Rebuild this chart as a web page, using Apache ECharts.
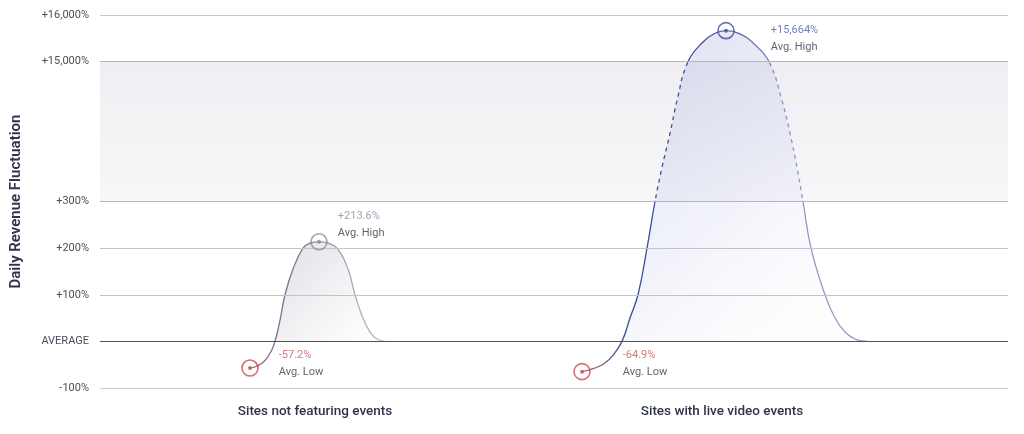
<!DOCTYPE html>
<html>
<head>
<meta charset="utf-8">
<script src="https://cdn.jsdelivr.net/npm/echarts@6/dist/echarts.min.js"></script>
<style>
html,body{margin:0;padding:0;background:#fff;}
#chart{width:1024px;height:434px;}
</style>
</head>
<body>
<div id="chart"></div>
<script>
// ---- data ----
const categories = ['Sites not featuring events', 'Sites with live video events'];
const categoryPos = [215, 622];
const yTicks = [-100, 0, 100, 200, 300, 15000, 16000];
const yTickLabels = ['-100%', 'AVERAGE', '+100%', '+200%', '+300%', '+15,000%', '+16,000%'];
const breakLow = 300;
const breakHigh = 15000;

// curve 1: sites not featuring events (position, % fluctuation)
const noEventsX = [150, 158, 165, 171, 175, 180, 185, 193, 203, 210, 219, 228, 237, 248, 255, 262, 270, 277, 285];
const noEventsY = [-57.2, -52, -41, -22, 0, 45, 100, 155, 200, 210.5, 213.6, 210.5, 200, 155, 100, 55, 20, 5, 0];

// curve 2: sites with live video events
const liveX = [482, 494, 504, 513, 522, 530, 538, 547, 555, 562, 570, 577, 588, 603, 615, 626, 640, 655, 669, 682, 690, 697, 703, 711, 725, 735, 745, 755, 767];
const liveY = [-64.9, -58, -48, -30, 0, 50, 100, 200, 300, 3880, 7450, 10900, 15000, 15420, 15608, 15664, 15594, 15360, 15000, 10900, 7450, 3880, 300, 200, 100, 50, 20, 5, 0];

// ---- helpers ----
function toUnit(v) {
  if (v <= breakLow) return v / 100;
  if (v <= breakHigh) return breakLow / 100 + (v - breakLow) / (breakHigh - breakLow) * 3;
  return breakLow / 100 + 3 + (v - breakHigh) / 1000;
}
function pts(xs, ys) { return xs.map((x, i) => [x, toUnit(ys[i])]); }
function fmt(v) {
  return (v > 0 ? '+' : '') + v.toLocaleString('en-US', {maximumFractionDigits: 1}) + '%';
}
const G = (x1, y1, x2, y2, stops) => new echarts.graphic.LinearGradient(x1, y1, x2, y2, stops.map(c => ({offset: c[0], color: c[1]})));

const FONT = 'Roboto, Inter, sans-serif';
const RED = '#c8474f';

const chart = echarts.init(document.getElementById('chart'));

// layout: plot spans y 15..388 for units -1..7
const TOP = 15, BOTTOM = 388, H = 434;
const uMin = toUnit(-100), uMax = toUnit(16000);
const px = u => BOTTOM - (u - uMin) / (uMax - uMin) * (BOTTOM - TOP);
function band(lo, hi) {
  return {left: 100, right: 16, top: px(hi), bottom: H - px(lo), containLabel: false, outerBoundsMode: 'none'};
}
const uLow = toUnit(breakLow), uHigh = toUnit(breakHigh), uZero = toUnit(0);
const grids = [
  band(uMin, uMax),   // 0 main
  band(uMin, uLow),   // 1 solid lower
  band(uLow, uHigh),  // 2 dashed break
  band(uHigh, uMax),  // 3 solid upper
  band(uZero, uMax)   // 4 fill above average
];
const ranges = [[uMin, uMax], [uMin, uLow], [uLow, uHigh], [uHigh, uMax], [uZero, uMax]];

const xAxes = grids.map((g, i) => ({
  gridIndex: i, type: 'value', min: 0, max: 908,
  axisLine: {show: false}, axisTick: {show: false}, splitLine: {show: false},
  axisLabel: i === 0 ? {
    customValues: categoryPos,
    formatter: v => categories[categoryPos.indexOf(v)] || '',
    margin: 17, fontSize: 13.5, fontWeight: 500, color: '#30344a', fontFamily: FONT
  } : {show: false}
}));
const yAxes = grids.map((g, i) => i === 0 ? {
  gridIndex: 0, type: 'value', min: uMin, max: uMax, interval: 1,
  name: 'Daily Revenue Fluctuation', nameLocation: 'middle', nameGap: 76,
  nameTextStyle: {fontSize: 15, fontWeight: 600, color: '#30344a', fontFamily: FONT},
  axisLine: {show: false}, axisTick: {show: false}, splitLine: {show: false},
  axisLabel: {
    margin: 11, fontSize: 11, color: '#4d4d5c', fontFamily: FONT,
    formatter: v => {
      const k = yTicks.findIndex(t => Math.abs(toUnit(t) - v) < 1e-6);
      return k >= 0 ? yTickLabels[k] : '';
    }
  }
} : {
  gridIndex: i, type: 'value', min: ranges[i][0], max: ranges[i][1],
  axisLine: {show: false}, axisTick: {show: false}, splitLine: {show: false}, axisLabel: {show: false}
});

const tickColors = ['#c9c9d2', '#4d5163', '#c2c2cc', '#c2c2cc', '#b4b4c2', '#b4b4c2', '#c6c6d0'];

const series = [];
// background band + gridlines
series.push({
  type: 'line', data: [], z: 1, silent: true, xAxisIndex: 0, yAxisIndex: 0,
  markArea: {
    silent: true,
    itemStyle: {color: G(0, 0, 0, 1, [[0, '#efeff3'], [1, '#f7f7f9']]), opacity: 1},
    data: [[{yAxis: uLow}, {yAxis: uHigh}]]
  },
  markLine: {
    silent: true, symbol: 'none', label: {show: false},
    data: yTicks.map((v, i) => ({yAxis: toUnit(v), lineStyle: {color: tickColors[i], width: i === 1 ? 1.2 : 1, type: 'solid'}}))
  }
});

const smooth = 0.45;
const curves = [
  {
    data: pts(noEventsX, noEventsY),
    fill: G(0, 0, 1, 1, [[0, 'rgba(150,150,168,0.55)'], [0.6, 'rgba(200,200,212,0.25)'], [1, 'rgba(255,255,255,0)']]),
    stroke: G(0, 0, 1, 0, [[0, RED], [0.1, '#a07080'], [0.2, '#74748a'], [0.5, '#85859a'], [0.7, '#a8a8b8'], [1, '#b8b8c7']])
  },
  {
    data: pts(liveX, liveY),
    fill: G(0, 0, 1, 1, [[0, 'rgba(165,172,218,0.6)'], [0.5, 'rgba(205,209,237,0.4)'], [1, 'rgba(255,255,255,0)']]),
    stroke: G(0, 0, 1, 0, [[0, RED], [0.07, '#8a5a80'], [0.15, '#3b4d97'], [0.45, '#3f5099'], [0.7, '#8a92c4'], [1, '#9ca3cd']])
  }
];
curves.forEach(c => {
  // fill above average only
  series.push({type: 'line', xAxisIndex: 4, yAxisIndex: 4, data: c.data, smooth, showSymbol: false, silent: true, z: 2, clip: true,
    lineStyle: {width: 0}, areaStyle: {origin: 0, color: c.fill}});
  // line: solid in normal ranges, dashed across axis break
  [1, 2, 3].forEach(gi => {
    series.push({type: 'line', xAxisIndex: gi, yAxisIndex: gi, data: c.data, smooth, showSymbol: false, silent: true, z: 4, clip: true,
      lineStyle: {color: c.stroke, width: 1.3, type: gi === 2 ? [4, 4] : 'solid'}});
  });
});

// ---- extreme markers ----
function argmax(a) { return a.indexOf(Math.max(...a)); }
function argmin(a) { return a.indexOf(Math.min(...a)); }
const markers = [
  {xs: noEventsX, ys: noEventsY, i: argmax(noEventsY), text: 'Avg. High', ring: '#8a8a9c', vc: '#8b8ba0', off: [10, -17]},
  {xs: liveX, ys: liveY, i: argmax(liveY), text: 'Avg. High', ring: '#3f4f97', vc: '#4d5fa6', off: [36, 8]},
  {xs: noEventsX, ys: noEventsY, i: argmin(noEventsY), text: 'Avg. Low', ring: RED, vc: '#c8545c', off: [20, -4]},
  {xs: liveX, ys: liveY, i: argmin(liveY), text: 'Avg. Low', ring: RED, vc: '#c8545c', off: [32, -8]}
];
series.push({
  type: 'scatter', z: 6, silent: true, symbolSize: 16, xAxisIndex: 0, yAxisIndex: 0,
  data: markers.map(m => ({
    value: [m.xs[m.i], toUnit(m.ys[m.i])],
    itemStyle: {color: 'rgba(255,255,255,0.15)', borderColor: m.ring, borderWidth: 1.6},
    label: {
      show: true, position: 'right', distance: 0, offset: m.off,
      formatter: '{v|' + fmt(m.ys[m.i]) + '}\n{t|' + m.text + '}',
      rich: {
        v: {color: m.vc, fontSize: 11, fontFamily: FONT, lineHeight: 17},
        t: {color: '#363947', fontSize: 11, fontFamily: FONT, lineHeight: 17}
      }
    }
  }))
});
series.push({
  type: 'scatter', z: 7, silent: true, symbolSize: 4, xAxisIndex: 0, yAxisIndex: 0,
  data: markers.map(m => ({value: [m.xs[m.i], toUnit(m.ys[m.i])], itemStyle: {color: m.ring}}))
});

chart.setOption({
  animation: false,
  backgroundColor: '#fff',
  grid: grids, xAxis: xAxes, yAxis: yAxes,
  series
});
</script>
</body>
</html>
